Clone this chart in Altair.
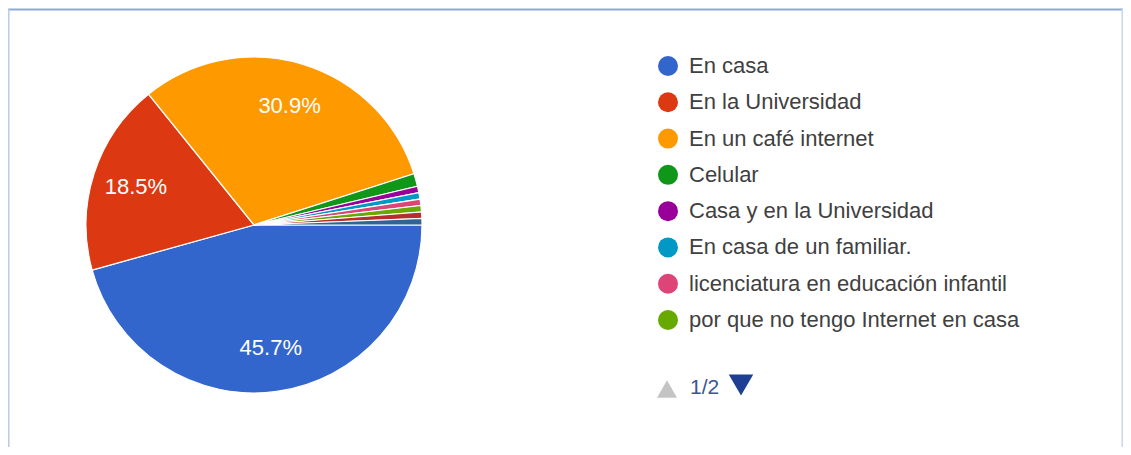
import math
import altair as alt
import pandas as pd

# ---- data ----
categories = [
    "En casa",
    "En la Universidad",
    "En un café internet",
    "Celular",
    "Casa y en la Universidad",
    "En casa de un familiar.",
    "licenciatura en educación infantil",
    "por que no tengo Internet en casa",
    "Otro lugar",
    "Otros",
]
counts = [74, 30, 50, 2, 1, 1, 1, 1, 1, 1]
colors = ["#3366cc", "#dc3912", "#ff9900", "#109618", "#990099",
          "#0099c6", "#dd4477", "#66aa00", "#b82e2e", "#316395"]
legend_page_size = 8
pager_label = ["1/2"]

df = pd.DataFrame({"idx": list(range(len(categories))), "cat": categories, "count": counts})
legend_df = df[df["idx"] < legend_page_size]
pager_df = pd.DataFrame({"t": pager_label})

W, H = 1115, 439
CX, CY, R = 246, 217, 168
FONT = "Liberation Sans"

color_scale = alt.Scale(domain=categories, range=colors)
theta_scale = alt.Scale(range=[math.pi / 2, math.pi / 2 + 2 * math.pi])

base = alt.Chart(df).transform_joinaggregate(
    total="sum(count)"
).transform_calculate(
    label="datum.count / datum.total >= 0.05 ? format(datum.count / datum.total, '.1%') : ''"
)

arcs = base.mark_arc(outerRadius=R, stroke="white", strokeWidth=1.2).encode(
    theta=alt.Theta("count:Q", stack=True, scale=theta_scale),
    color=alt.Color("cat:N", scale=color_scale, legend=None),
    order=alt.Order("idx:Q"),
    x=alt.value(CX),
    y=alt.value(CY),
)

labels = base.mark_text(radius=124, fontSize=22, font=FONT, color="white").encode(
    theta=alt.Theta("count:Q", stack=True, scale=theta_scale),
    order=alt.Order("idx:Q"),
    text="label:N",
    x=alt.value(CX),
    y=alt.value(CY),
)

ly = alt.Y("idx:Q", scale=alt.Scale(domain=[0, 7], range=[58, 312]), axis=None)

leg_dots = alt.Chart(legend_df).mark_circle(size=400, opacity=1).encode(
    x=alt.value(660),
    y=ly,
    color=alt.Color("cat:N", scale=color_scale, legend=None),
)

leg_text = alt.Chart(legend_df).mark_text(
    align="left", baseline="middle", fontSize=22, font=FONT, color="#404040"
).encode(
    x=alt.value(681),
    y=ly,
    text="cat:N",
)

pager_up = alt.Chart(pager_df).mark_point(
    shape="triangle-up", filled=True, size=400, color="#c4c4c4", opacity=1
).encode(x=alt.value(659), y=alt.value(381))

pager_txt = alt.Chart(pager_df).mark_text(
    align="left", baseline="middle", fontSize=21, font=FONT, color="#3a5590"
).encode(x=alt.value(682), y=alt.value(380), text="t:N")

pager_down = alt.Chart(pager_df).mark_point(
    shape="triangle-down", filled=True, size=600, color="#1f3f95", opacity=1
).encode(x=alt.value(733), y=alt.value(377))

frame_top = alt.Chart(pager_df).mark_rule(color="#8fa9d6", strokeWidth=2).encode(
    x=alt.value(0), x2=alt.value(W), y=alt.value(1.5)
)
frame_left = alt.Chart(pager_df).mark_rule(color="#b8cae6", strokeWidth=1.5).encode(
    x=alt.value(0.8), y=alt.value(1), y2=alt.value(H)
)
frame_right = alt.Chart(pager_df).mark_rule(color="#c8d6ec", strokeWidth=1.5).encode(
    x=alt.value(W - 0.8), y=alt.value(1), y2=alt.value(H)
)

chart = alt.layer(
    frame_top, frame_left, frame_right,
    arcs, labels, leg_dots, leg_text, pager_up, pager_txt, pager_down,
).properties(
    width=W, height=H, autosize="none", padding=0
).configure_view(stroke=None)

chart.save("out.html", embed_options={"renderer": "svg", "actions": False})
